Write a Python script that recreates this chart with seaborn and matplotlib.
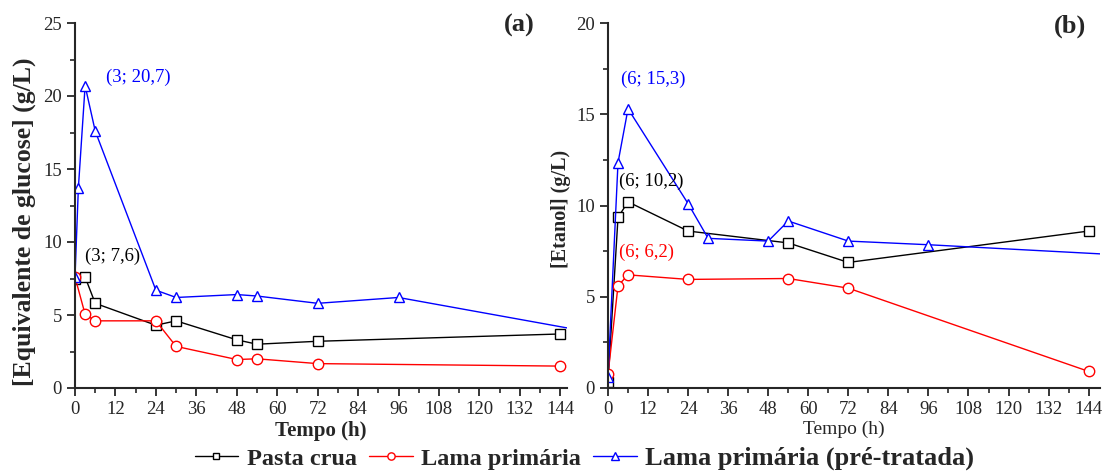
import matplotlib
matplotlib.use("Agg")
import matplotlib.pyplot as plt
from matplotlib.ticker import MultipleLocator
import pandas as pd
import seaborn as sns

# (a) glucose equivalents, g/L
t_pasta_a = [0, 3, 6, 24, 30, 48, 54, 72, 144]
pasta_a = [7.5, 7.6, 5.8, 4.3, 4.6, 3.3, 3.0, 3.2, 3.7]
t_lama_a = [0, 3, 6, 24, 30, 48, 54, 72, 144]
lama_a = [7.6, 5.05, 4.6, 4.6, 2.85, 1.95, 2.0, 1.67, 1.5]
t_pre_a = [0, 1, 3, 6, 24, 30, 48, 54, 72, 96, 168]
pre_a = [7.6, 13.7, 20.7, 17.6, 6.7, 6.2, 6.4, 6.3, 5.8, 6.2, 3.2]

# (b) ethanol, g/L
t_pasta_b = [0, 3, 6, 24, 54, 72, 144]
pasta_b = [0.33, 9.35, 10.2, 8.6, 7.95, 6.88, 8.6]
t_lama_b = [0, 3, 6, 24, 54, 72, 144]
lama_b = [0.75, 5.6, 6.2, 5.95, 6.0, 5.47, 0.91]
t_pre_b = [0, 3, 6, 24, 30, 48, 54, 72, 96, 168]
pre_b = [0.6, 12.35, 15.3, 10.1, 8.2, 8.05, 9.15, 8.05, 7.85, 7.15]

series_names = ["Pasta crua", "Lama primária", "Lama primária (pré-tratada)"]
series_colors = ["black", "#FF0000", "#0000FF"]
series_markers = ["s", "o", "^"]

panel_a = [(t_pasta_a, pasta_a), (t_lama_a, lama_a), (t_pre_a, pre_a)]
panel_b = [(t_pasta_b, pasta_b), (t_lama_b, lama_b), (t_pre_b, pre_b)]

sns.set_style("ticks")
plt.rcParams["font.family"] = ["Liberation Serif", "DejaVu Serif"]

fig = plt.figure(figsize=(11.07, 4.71), dpi=100)
ax_a = fig.add_axes([75 / 1107, 1 - 388 / 471, 492 / 1107, 365 / 471])
ax_b = fig.add_axes([608 / 1107, 1 - 388 / 471, 492 / 1107, 365 / 471])


def draw_panel(ax, panel):
    for (t, v), name, c, m in zip(panel, series_names, series_colors, series_markers):
        df = pd.DataFrame({"Tempo": t, "valor": v})
        sns.lineplot(
            data=df, x="Tempo", y="valor", ax=ax, color=c, marker=m,
            markersize=6.5 if m == "s" else 7.5, markerfacecolor="white",
            markeredgecolor=c, markeredgewidth=1.0, linewidth=1.0,
            estimator=None, sort=False, label=name, legend=False,
        )
    ax.xaxis.set_major_locator(MultipleLocator(12))
    ax.xaxis.set_minor_locator(MultipleLocator(6))
    ax.yaxis.set_major_locator(MultipleLocator(5))
    ax.yaxis.set_minor_locator(MultipleLocator(2.5))
    ax.tick_params(which="major", direction="out", length=6, width=1.3, labelsize=13.5)
    ax.tick_params(which="minor", direction="out", length=3.5, width=1.2)
    for s in ["top", "right"]:
        ax.spines[s].set_visible(False)
    for s in ["left", "bottom"]:
        ax.spines[s].set_linewidth(1.5)


draw_panel(ax_a, panel_a)
draw_panel(ax_b, panel_b)

ax_a.set_xlim(0, 146)
ax_a.set_ylim(0, 25)
ax_b.set_xlim(0, 147.4)
ax_b.set_ylim(0, 20)

ax_a.set_xlabel("Tempo (h)", fontsize=15, fontweight="bold")
ax_a.set_ylabel("[Equivalente de glucose] (g/L)", fontsize=18.5, fontweight="bold")
ax_b.set_xlabel("Tempo (h)", fontsize=14)
ax_b.set_ylabel("[Etanol] (g/L)", fontsize=14.5, fontweight="bold")
ax_a.xaxis.set_label_coords(0.5, -0.09)
ax_b.xaxis.set_label_coords(0.48, -0.09)
ax_a.yaxis.set_label_coords(-0.08, 0.455)
ax_b.yaxis.set_label_coords(-0.075, 0.49)

ax_a.text(9.2, 21.3, "(3; 20,7)", color="#0000FF", fontsize=13.5, va="center")
ax_a.text(3.0, 9.0, "(3; 7,6)", color="black", fontsize=13.5, va="center")
ax_b.text(3.9, 16.9, "(6; 15,3)", color="#0000FF", fontsize=13.5, va="center")
ax_b.text(3.2, 11.35, "(6; 10,2)", color="black", fontsize=13.5, va="center")
ax_b.text(3.2, 7.45, "(6; 6,2)", color="#FF0000", fontsize=13.5, va="center")

ax_a.text(131.7, 24.8, "(a)", fontsize=19, fontweight="bold", ha="center", va="center")
ax_b.text(138.3, 19.8, "(b)", fontsize=19, fontweight="bold", ha="center", va="center")

handles = ax_a.get_lines()[:3]
leg = fig.legend(
    handles, series_names, loc="center", bbox_to_anchor=(0.528, 0.027), ncol=3,
    frameon=False, prop={"weight": "bold", "size": 17.5}, handlelength=1.8,
    handletextpad=0.35, columnspacing=0.5, borderaxespad=0, borderpad=0,
    markerscale=0.7,
)
leg.get_texts()[2].set_fontsize(19)

fig.savefig("out.png", dpi=100)
